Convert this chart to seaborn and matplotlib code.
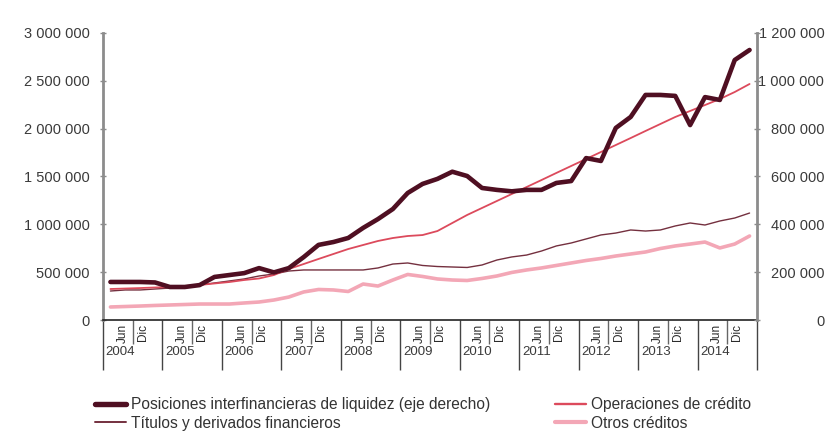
import numpy as np
import pandas as pd
import matplotlib
matplotlib.use("Agg")
import matplotlib.pyplot as plt
import seaborn as sns
from matplotlib.lines import Line2D
from matplotlib.ticker import FuncFormatter, MultipleLocator

# Quarterly balances, 2004-2014 (colones)
years = list(range(2004, 2015))
half_labels = ["Jun", "Dic"]

posiciones = [159000, 159000, 159000, 157000, 138000, 138000, 146000, 180000,
              188000, 196000, 217000, 199000, 217000, 263000, 314000, 326000,
              343000, 385000, 422000, 464000, 531000, 569000, 590000, 620000,
              602000, 552000, 544000, 538000, 544000, 544000, 573000, 581000,
              677000, 665000, 803000, 849000, 941000, 941000, 937000, 815000,
              932000, 920000, 1087000, 1129000]

operaciones = [324000, 329000, 334000, 340000, 345000, 355000, 366000, 382000,
               397000, 418000, 434000, 470000, 533000, 585000, 638000, 690000,
               742000, 784000, 826000, 857000, 878000, 888000, 930000, 1014000,
               1098000, 1171000, 1244000, 1317000, 1390000, 1463000, 1537000, 1610000,
               1683000, 1756000, 1829000, 1902000, 1976000, 2049000, 2122000, 2185000,
               2247000, 2310000, 2383000, 2467000]

titulos = [303000, 314000, 314000, 324000, 334000, 345000, 366000, 387000,
           408000, 429000, 460000, 481000, 512000, 523000, 523000, 523000,
           523000, 523000, 544000, 585000, 596000, 570000, 559000, 554000,
           549000, 575000, 627000, 659000, 679000, 721000, 774000, 805000,
           847000, 889000, 909000, 941000, 930000, 941000, 983000, 1014000,
           993000, 1035000, 1066000, 1118000]

otros = [136000, 141000, 146000, 152000, 157000, 162000, 167000, 167000,
         167000, 178000, 188000, 209000, 240000, 293000, 319000, 314000,
         298000, 376000, 355000, 418000, 476000, 455000, 429000, 418000,
         413000, 434000, 460000, 497000, 523000, 544000, 570000, 596000,
         622000, 643000, 669000, 690000, 711000, 747000, 774000, 794000,
         815000, 753000, 794000, 878000]

labels = {
    "posiciones": "Posiciones interfinancieras de liquidez (eje derecho)",
    "titulos": "Títulos y derivados financieros",
    "operaciones": "Operaciones de crédito",
    "otros": "Otros créditos",
}
colors = {
    "posiciones": "#4f0f22",
    "operaciones": "#dc4a5c",
    "titulos": "#74303f",
    "otros": "#f3a7b6",
}
widths = {"posiciones": 3.3, "operaciones": 1.3, "titulos": 1.0, "otros": 2.6}

sns.set_theme(style="white")
plt.rcParams["font.family"] = ["Liberation Sans", "DejaVu Sans"]

n = len(posiciones)
df = pd.DataFrame({
    "pos": np.arange(n) + 0.5,
    "posiciones": posiciones,
    "operaciones": operaciones,
    "titulos": titulos,
    "otros": otros,
})

W, H = 827, 436
fig = plt.figure(figsize=(W / 100, H / 100), dpi=100)
ax = fig.add_axes([103 / W, 1 - 320 / H, 654 / W, 287 / H])

for key in ["otros", "titulos", "operaciones"]:
    sns.lineplot(data=df, x="pos", y=key, ax=ax, color=colors[key],
                 linewidth=widths[key], legend=False)

ax2 = ax.twinx()
sns.lineplot(data=df, x="pos", y="posiciones", ax=ax2, color=colors["posiciones"],
             linewidth=widths["posiciones"], legend=False)

fmt = FuncFormatter(lambda v, p: f"{v:,.0f}".replace(",", " "))

ax.set_xlim(0, n)
ax.set_ylim(0, 3_000_000)
ax.yaxis.set_major_locator(MultipleLocator(500_000))
ax.yaxis.set_major_formatter(fmt)
ax2.set_ylim(0, 1_200_000)
ax2.yaxis.set_major_locator(MultipleLocator(200_000))
ax2.yaxis.set_major_formatter(fmt)

for a in (ax, ax2):
    a.set_xlabel("")
    a.set_ylabel("")
    a.spines["top"].set_visible(False)
    a.grid(False)
    a.set_facecolor("none")

ax.spines["left"].set_color("#8c8c8c")
ax.spines["left"].set_linewidth(2)
ax.spines["right"].set_visible(False)
ax.spines["bottom"].set_color("#222222")
ax.spines["bottom"].set_linewidth(1.2)
ax2.spines["right"].set_color("#8c8c8c")
ax2.spines["right"].set_linewidth(2)
ax2.spines["left"].set_visible(False)
ax2.spines["bottom"].set_visible(False)

ax.tick_params(axis="y", direction="inout", length=5, width=1, color="#8c8c8c",
               labelsize=10.5, labelcolor="#3a3a3a", pad=7, left=True)
ax2.tick_params(axis="y", direction="inout", length=5, width=1, color="#8c8c8c",
                labelsize=10.5, labelcolor="#3a3a3a", pad=46, right=True)
for t in ax2.get_yticklabels():
    t.set_horizontalalignment("right")

# Category axis: year separators and half-year separators
ax.set_xticks(np.arange(0, n + 1, 4))
ax.set_xticks(np.arange(2, n, 4), minor=True)
ax.tick_params(axis="x", which="major", direction="out", length=36, width=1,
               color="#444444", labelbottom=False, bottom=True)
ax.tick_params(axis="x", which="minor", direction="out", length=17, width=1,
               color="#666666", labelbottom=False, bottom=True)

for k, yr in enumerate(years):
    mid = 4 * k + 2
    ax.annotate(half_labels[0], xy=(mid, 0), xycoords=("data", "axes fraction"),
                xytext=(-3, -3), textcoords="offset points", rotation=90,
                ha="right", va="top", fontsize=8.5, color="#2a2a2a")
    ax.annotate(half_labels[1], xy=(mid, 0), xycoords=("data", "axes fraction"),
                xytext=(3, -3), textcoords="offset points", rotation=90,
                ha="left", va="top", fontsize=8.5, color="#2a2a2a")
    ax.annotate(str(yr), xy=(4 * k, 0), xycoords=("data", "axes fraction"),
                xytext=(2, -23), textcoords="offset points",
                ha="left", va="center", fontsize=9.5, color="#3a3a3a")

def handle(key):
    return Line2D([], [], color=colors[key], linewidth=widths[key] + (0.6 if key == "posiciones" else 0.4))

leg_kw = dict(frameon=False, fontsize=11.2, handlelength=2.0, handletextpad=0.3,
              labelspacing=0.25, borderaxespad=0, borderpad=0)
for t_keys, x0 in ((["posiciones", "titulos"], 95), (["operaciones", "otros"], 555)):
    leg = fig.legend([handle(k) for k in t_keys], [labels[k] for k in t_keys],
                     loc="upper left", bbox_to_anchor=(x0 / W, 1 - 397 / H), **leg_kw)
    for txt in leg.get_texts():
        txt.set_color("#333333")

fig.savefig("out.png", dpi=100)
